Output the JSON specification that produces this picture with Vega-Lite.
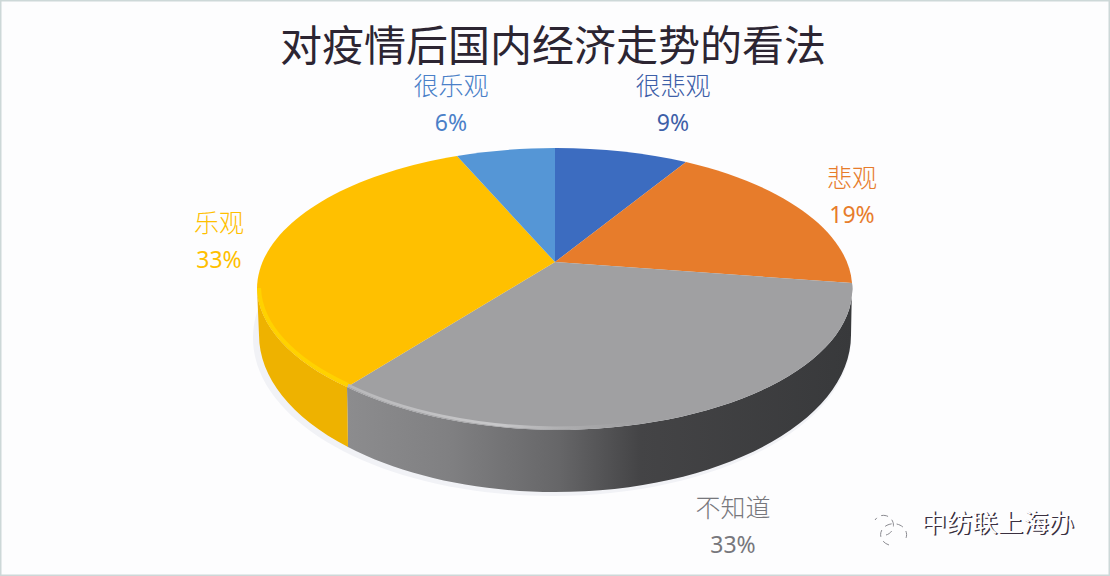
{
  "$schema": "https://vega.github.io/schema/vega-lite/v6.json",
  "width": 1110,
  "height": 576,
  "padding": 0,
  "autosize": {"type": "none"},
  "background": "#fdfdfe",
  "view": {"stroke": "#cdd8d8", "strokeWidth": 3, "fill": null},
  "title": {
    "text": "对疫情后国内经济走势的看法",
    "font": "Noto Sans CJK SC",
    "fontSize": 42,
    "fontWeight": "normal",
    "color": "#2c2532",
    "anchor": "middle",
    "dx": -2,
    "offset": -70
  },
  "data": {
    "values": [
      {"slice": "很悲观", "value": 0.09, "rank": 1},
      {"slice": "悲观", "value": 0.19, "rank": 2},
      {"slice": "不知道", "value": 0.33, "rank": 3},
      {"slice": "乐观", "value": 0.33, "rank": 4},
      {"slice": "很乐观", "value": 0.06, "rank": 5}
    ]
  },
  "resolve": {"scale": {"color": "independent", "shape": "independent"}},
  "layer": [
    {
      "transform": [{"filter": "datum.rank === 1"}],
      "mark": {"type": "point", "filled": true, "opacity": 1, "size": 4, "fill": "#f1f2f6",
        "shape": "M-302 50A299 158 0 1 1 296 50A299 158 0 1 1 -302 50Z"}
    },
    {
      "transform": [{"filter": "datum.slice === '不知道'"}],
      "mark": {"type": "point", "filled": true, "opacity": 1, "size": 4,
        "shape": "M297 -5A298 141 0 0 1 0 142A298 141 0 0 1 -208 99L-207 159A296 157 0 0 0 0 204A296 157 0 0 0 296 47Z",
        "fill": {"gradient": "linear", "x1": 0, "x2": 1, "y1": 0, "y2": 0, "stops": [
          {"offset": 0, "color": "#8c8c8e"},
          {"offset": 0.2, "color": "#808082"},
          {"offset": 0.42, "color": "#666668"},
          {"offset": 0.58, "color": "#444446"},
          {"offset": 1, "color": "#38393b"}
        ]}}
    },
    {
      "transform": [{"filter": "datum.slice === '乐观'"}],
      "mark": {"type": "point", "filled": true, "opacity": 1, "size": 4,
        "shape": "M-208 99A298 141 0 0 1 -298 0L-296 47A296 157 0 0 0 -207 159Z",
        "fill": "#eeb200"}
    },
    {
      "mark": {"type": "point", "filled": true, "opacity": 1, "size": 4},
      "encoding": {
        "shape": {
          "field": "slice",
          "type": "nominal",
          "legend": null,
          "scale": {
            "domain": ["很悲观", "悲观", "不知道", "乐观", "很乐观"],
            "range": [
              "M0 -26L0 -140A298 141 0 0 1 131 -126Z",
              "M0 -26L131 -126A298 141 0 0 1 297 -5Z",
              "M0 -26L297 -5A298 141 0 0 1 0 142A298 141 0 0 1 -208 99Z",
              "M0 -26L-208 99A298 141 0 0 1 -298 0A298 141 0 0 1 -98 -132Z",
              "M0 -26L-98 -132A298 141 0 0 1 0 -140Z"
            ]
          }
        },
        "color": {
          "field": "slice",
          "type": "nominal",
          "legend": null,
          "scale": {
            "domain": ["很悲观", "悲观", "不知道", "乐观", "很乐观"],
            "range": ["#3c6cc0", "#e77c2b", "#a0a0a2", "#ffc000", "#5596d6"]
          }
        },
        "tooltip": [
          {"field": "slice", "type": "nominal"},
          {"field": "value", "type": "quantitative", "format": ".0%"}
        ]
      }
    },
    {
      "transform": [{"filter": "datum.slice === '乐观'"}],
      "mark": {"type": "point", "filled": false, "opacity": 1, "size": 4, "strokeWidth": 4,
        "stroke": "#ffd200", "shape": "M-207 97A296 139 0 0 1 -296 0"}
    },
    {
      "transform": [{"filter": "datum.slice === '不知道'"}],
      "mark": {"type": "point", "filled": false, "opacity": 1, "size": 4, "strokeWidth": 3,
        "shape": "M-207 97A297 140 0 0 0 0 140A297 140 0 0 0 100 132",
        "stroke": {"gradient": "linear", "x1": 0, "x2": 1, "y1": 0, "y2": 0, "stops": [
          {"offset": 0, "color": "#b8b8ba"},
          {"offset": 0.5, "color": "#c8c8ca"},
          {"offset": 1, "color": "rgba(160,160,162,0)"}
        ]}}
    },
    {
      "mark": {"type": "text", "font": "Noto Sans CJK SC", "fontSize": 25, "fontWeight": 300, "dy": -18},
      "encoding": {
        "text": {"field": "slice", "type": "nominal"},
        "x": {"field": "rank", "type": "quantitative", "axis": null,
          "scale": {"domain": [1, 2, 3, 4, 5, 6], "range": [673, 852, 733, 219, 451, 998], "zero": false, "nice": false}},
        "y": {"field": "rank", "type": "quantitative", "axis": null,
          "scale": {"domain": [1, 2, 3, 4, 5, 6], "range": [105, 197, 527, 242, 105, 524], "zero": false, "nice": false}},
        "color": {
          "field": "slice",
          "type": "nominal",
          "legend": null,
          "scale": {
            "domain": ["很悲观", "悲观", "不知道", "乐观", "很乐观"],
            "range": ["#3d5fa8", "#e77c2b", "#77777c", "#ffc000", "#4a80c8"]
          }
        }
      }
    },
    {
      "mark": {"type": "text", "font": "Noto Sans", "fontSize": 23, "dy": 19},
      "encoding": {
        "text": {"field": "value", "type": "quantitative", "format": ".0%"},
        "x": {"field": "rank", "type": "quantitative"},
        "y": {"field": "rank", "type": "quantitative"},
        "color": {
          "field": "slice",
          "type": "nominal",
          "legend": null,
          "scale": {
            "domain": ["很悲观", "悲观", "不知道", "乐观", "很乐观"],
            "range": ["#3d5fa8", "#e77c2b", "#77777c", "#ffc000", "#4a80c8"]
          }
        }
      }
    },
    {
      "data": {"values": [{"name": "中纺联上海办", "rank": 6}]},
      "mark": {"type": "point", "filled": false, "opacity": 1, "size": 4, "strokeWidth": 1,
        "stroke": "#8a8a90", "strokeDash": [7, 5],
        "shape": "M331 247A10 10 0 1 0 320 232M334 257A13 11 0 1 1 350 252"}
    },
    {
      "data": {"values": [{"name": "中纺联上海办", "rank": 6}]},
      "mark": {"type": "text", "font": "Noto Sans CJK SC", "fontSize": 25.5, "fontWeight": 400, "color": "#3a3040", "dx": 1, "dy": 1},
      "encoding": {
        "text": {"field": "name", "type": "nominal"},
        "x": {"field": "rank", "type": "quantitative"},
        "y": {"field": "rank", "type": "quantitative"}
      }
    },
    {
      "data": {"values": [{"name": "中纺联上海办", "rank": 6}]},
      "mark": {"type": "text", "font": "Noto Sans CJK SC", "fontSize": 25.5, "fontWeight": 400, "color": "#fdfdfe", "dx": -0.5, "dy": -0.5},
      "encoding": {
        "text": {"field": "name", "type": "nominal"},
        "x": {"field": "rank", "type": "quantitative"},
        "y": {"field": "rank", "type": "quantitative"}
      }
    }
  ]
}
